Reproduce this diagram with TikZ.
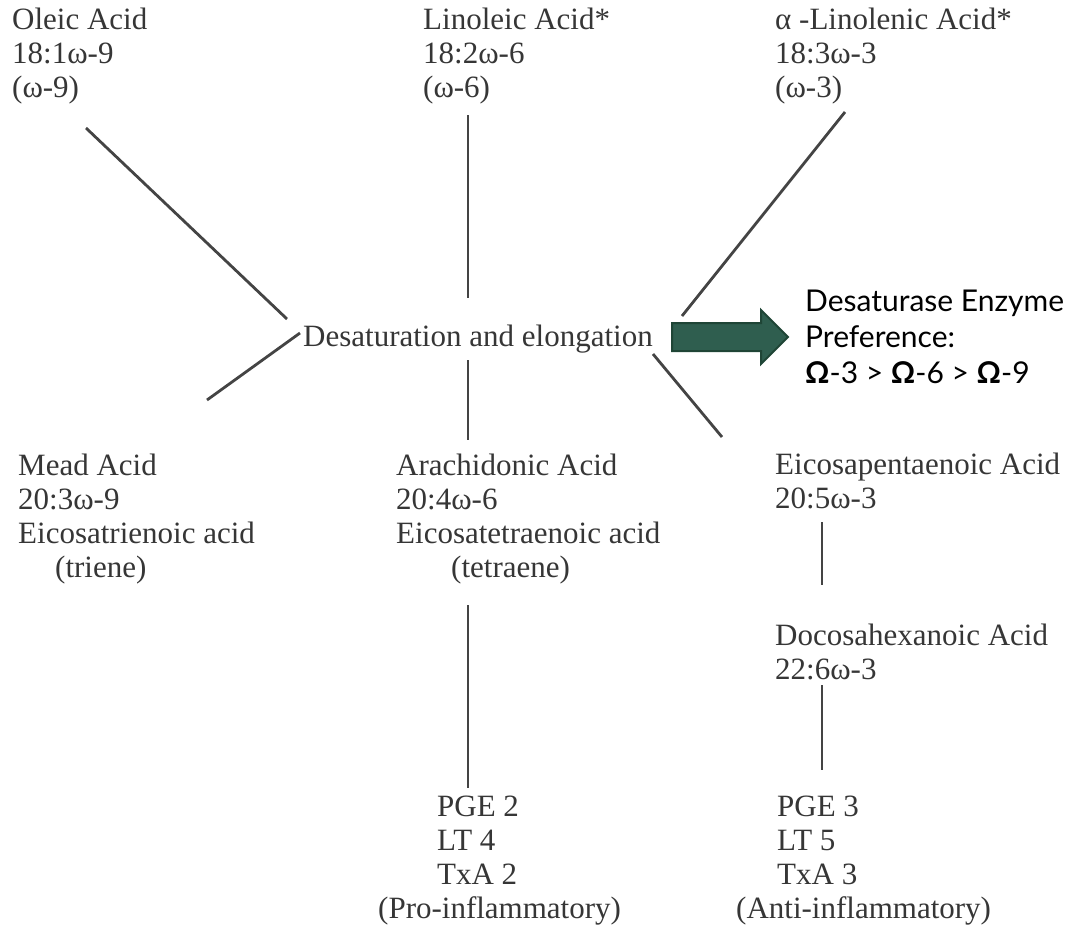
\documentclass[tikz,border=0pt]{standalone}
\usepackage{fontspec}
\setmainfont{Liberation Serif}
\newfontfamily\latofont{Lato}
\definecolor{txt}{HTML}{363636}
\definecolor{ln}{HTML}{444444}
\definecolor{arrfill}{HTML}{2F5E4F}
\definecolor{arrdraw}{HTML}{1F4536}
\begin{document}
\begin{tikzpicture}[x=1pt,y=-1pt,
 lbl/.style={anchor=north west, inner sep=0pt, align=left, text=txt, font=\fontsize{31}{34}\selectfont, execute at begin node=\strut},
 conn/.style={draw=ln, line width=2.8pt},
 note/.style={anchor=north west, inner sep=0pt, align=left, text=black, font=\latofont\fontsize{30}{36}\selectfont, execute at begin node=\strut}]
\useasboundingbox (0,0) rectangle (1071,930);
% top row
\node[lbl] (oleic) at (12,8) {Oleic Acid\\18:1ω-9\\(ω-9)};
\node[lbl] (linoleic) at (423,8) {Linoleic Acid*\\18:2ω-6\\(ω-6)};
\node[lbl] (alin) at (775,8) {α -Linolenic Acid*\\18:3ω-3\\(ω-3)};
% centre
\node[lbl] (desat) at (303,322) {Desaturation and elongation};
% middle row
\node[lbl] (mead) at (18,454) {Mead Acid\\20:3ω-9\\Eicosatrienoic acid\\\hspace*{37pt}(triene)};
\node[lbl] (arach) at (396,454) {Arachidonic Acid\\20:4ω-6\\Eicosatetraenoic acid\\\hspace*{55pt}(tetraene)};
\node[lbl] (epa) at (775,453) {Eicosapentaenoic Acid\\20:5ω-3};
\node[lbl] (dha) at (775,624) {Docosahexanoic Acid\\22:6ω-3};
% bottom row
\node[lbl] (pro) at (378,796) {\hspace*{59pt}PGE 2\\\hspace*{59pt}LT 4\\\hspace*{59pt}TxA 2\\(Pro-inflammatory)};
\node[lbl] (anti) at (736,796) {\hspace*{41pt}PGE 3\\\hspace*{41pt}LT 5\\\hspace*{41pt}TxA 3\\(Anti-inflammatory)};
% note
\node[note] (pref) at (805,290) {Desaturase Enzyme\\Preference:\\\textbf{Ω}-3 > \textbf{Ω}-6 > \textbf{Ω}-9};
% connector end points
\coordinate (c1a) at (86,128);   \coordinate (c1b) at (287,319);
\coordinate (c2a) at (468,115);  \coordinate (c2b) at (468,298);
\coordinate (c3a) at (845,112);  \coordinate (c3b) at (682,316);
\coordinate (c4a) at (300,333);  \coordinate (c4b) at (207,400);
\coordinate (c5a) at (468,360);  \coordinate (c5b) at (468,440);
\coordinate (c6a) at (653,354);  \coordinate (c6b) at (722,437);
\coordinate (c7a) at (822,522);  \coordinate (c7b) at (822,585);
\coordinate (c8a) at (822,685);  \coordinate (c8b) at (822,770);
\coordinate (c9a) at (468,605);  \coordinate (c9b) at (468,788);
\draw[conn] (c1a) -- (c1b);
\draw[conn] (c2a) -- (c2b);
\draw[conn] (c3a) -- (c3b);
\draw[conn] (c4a) -- (c4b);
\draw[conn] (c5a) -- (c5b);
\draw[conn] (c6a) -- (c6b);
\draw[conn] (c7a) -- (c7b);
\draw[conn] (c8a) -- (c8b);
\draw[conn] (c9a) -- (c9b);
% block arrow
\draw[fill=arrfill, draw=arrdraw, line width=2pt, line join=miter]
 (672,323) -- (761,323) -- (761,310) -- (788,337) -- (761,364) -- (761,351) -- (672,351) -- cycle;
\end{tikzpicture}
\end{document}
